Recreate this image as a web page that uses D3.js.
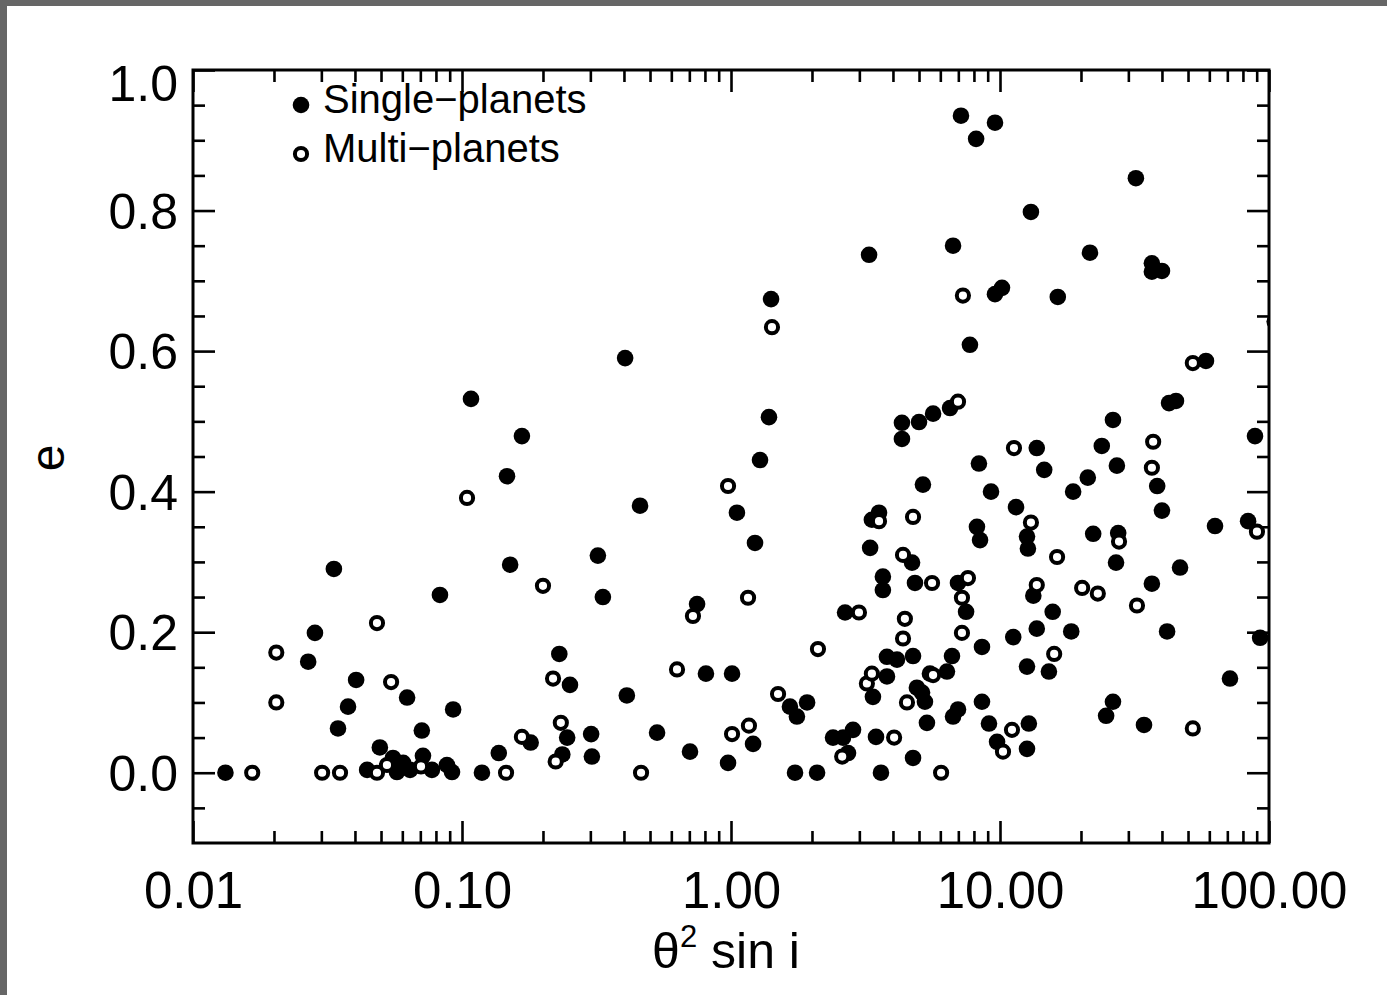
<!DOCTYPE html>
<html>
<head>
<meta charset="utf-8">
<script src="https://cdn.jsdelivr.net/npm/d3@7"></script>
<style>
  body { margin: 0; background: #fff; }
  text { font-family: "Liberation Sans", Arial, Helvetica, sans-serif; fill: #000; }
</style>
</head>
<body>
<div id="chart"></div>
<script>
// single-planet systems (filled dots)
let singleX = [0.0132, 0.0268, 0.0284, 0.0334, 0.0346, 0.0377, 0.0404, 0.0625, 0.0828, 0.0927,
  0.0709, 0.0495, 0.0444, 0.0554, 0.0604, 0.0573, 0.0641, 0.0716, 0.0773, 0.0879,
  0.0918, 0.1186, 0.108, 0.147, 0.167, 0.151, 0.137, 0.180, 0.230, 0.252,
  0.246, 0.236, 0.302, 0.304, 0.320, 0.334, 0.404, 0.410, 0.459, 0.531,
  0.704, 0.748, 0.807, 1.009, 0.975, 1.052, 1.228, 1.208, 1.282, 1.384,
  1.409, 1.656, 1.758, 1.918, 1.730, 2.089, 2.395, 2.609, 2.723, 2.842,
  2.655, 3.26, 3.34, 3.55, 3.46, 3.61, 3.67, 3.67, 3.29, 3.80,
  4.14, 3.80, 3.37, 4.75, 4.75, 4.71, 4.83, 4.91, 5.13, 5.26,
  5.35, 5.49, 4.32, 4.32, 5.00, 5.64, 6.52, 5.17, 6.35, 6.63,
  6.69, 6.98, 6.98, 7.48, 8.21, 8.43, 8.57, 8.57, 9.10, 9.75,
  8.35, 9.26, 6.69, 7.16, 8.15, 9.58, 7.73, 9.58, 10.17, 13.03,
  16.4, 21.6, 32.0, 36.7, 36.7, 40.0, 58.3, 42.5, 45.1, 26.3,
  13.7, 11.47, 12.6, 12.7, 14.6, 23.9, 27.2, 21.2, 18.7, 38.4,
  40.0, 22.2, 27.5, 27.0, 46.7, 63.0, 83.6, 88.7, 36.7, 13.3,
  15.7, 13.7, 11.2, 18.4, 41.8, 92.7, 12.6, 15.2, 71.6, 26.3,
  24.8, 34.3, 12.8, 12.6, 105]
let singleE = [0.0, 0.158, 0.199, 0.290, 0.063, 0.094, 0.132, 0.107, 0.253, 0.090,
  0.060, 0.036, 0.004, 0.021, 0.014, 0.001, 0.004, 0.024, 0.004, 0.011,
  0.001, 0.0, 0.532, 0.422, 0.479, 0.296, 0.028, 0.043, 0.169, 0.125,
  0.050, 0.026, 0.055, 0.023, 0.309, 0.250, 0.590, 0.110, 0.380, 0.057,
  0.030, 0.240, 0.141, 0.141, 0.014, 0.370, 0.327, 0.041, 0.445, 0.506,
  0.674, 0.094, 0.080, 0.100, 0.0, 0.0, 0.050, 0.050, 0.028, 0.061,
  0.228, 0.737, 0.360, 0.370, 0.051, 0.0, 0.279, 0.260, 0.320, 0.165,
  0.161, 0.137, 0.108, 0.166, 0.021, 0.299, 0.270, 0.121, 0.114, 0.101,
  0.071, 0.141, 0.498, 0.475, 0.499, 0.511, 0.519, 0.410, 0.144, 0.166,
  0.080, 0.090, 0.270, 0.229, 0.350, 0.331, 0.179, 0.101, 0.070, 0.044,
  0.440, 0.400, 0.750, 0.935, 0.902, 0.925, 0.609, 0.681, 0.690, 0.798,
  0.677, 0.740, 0.846, 0.725, 0.713, 0.714, 0.586, 0.526, 0.529, 0.502,
  0.462, 0.378, 0.336, 0.319, 0.431, 0.465, 0.437, 0.420, 0.400, 0.408,
  0.373, 0.340, 0.341, 0.299, 0.292, 0.351, 0.358, 0.479, 0.269, 0.252,
  0.229, 0.205, 0.193, 0.201, 0.201, 0.192, 0.151, 0.144, 0.134, 0.101,
  0.081, 0.068, 0.070, 0.034, 0.642]

// multi-planet systems (open circles)
let multiX = [0.0166, 0.0204, 0.0204, 0.0302, 0.0352, 0.0483, 0.0545, 0.0483, 0.0526, 0.0704,
  0.1044, 0.1458, 0.200, 0.218, 0.233, 0.167, 0.223, 0.463, 0.630, 0.722,
  0.975, 1.009, 1.166, 1.157, 1.42, 1.496, 2.105, 2.59, 2.99, 3.20,
  3.34, 3.55, 4.04, 4.36, 4.43, 4.36, 4.51, 4.75, 5.59, 5.64,
  6.04, 6.98, 7.28, 7.60, 7.22, 7.22, 11.08, 10.26, 11.27, 13.03,
  13.7, 16.3, 15.9, 20.2, 23.1, 27.7, 32.3, 37.1, 36.7, 52.1,
  52.1, 90.2]
let multiE = [0.0, 0.171, 0.100, 0.0, 0.0, 0.213, 0.129, 0.0, 0.011, 0.009,
  0.391, 0.0, 0.266, 0.134, 0.071, 0.051, 0.016, 0.0, 0.147, 0.223,
  0.408, 0.055, 0.067, 0.249, 0.634, 0.112, 0.176, 0.023, 0.228, 0.127,
  0.141, 0.358, 0.050, 0.310, 0.219, 0.191, 0.100, 0.364, 0.270, 0.139,
  0.0, 0.528, 0.679, 0.277, 0.249, 0.199, 0.061, 0.030, 0.462, 0.356,
  0.267, 0.307, 0.169, 0.263, 0.255, 0.329, 0.238, 0.471, 0.434, 0.583,
  0.063, 0.343]

let xMajor = [0.01, 0.1, 1, 10, 100]
let yMajor = [0, 0.2, 0.4, 0.6, 0.8, 1.0]
let legendLabels = ['Single\u2212planets', 'Multi\u2212planets']

let width = 1387
let height = 995
let margin = { top: 70, left: 193, right: 118, bottom: 152 }

let svg = d3.select('#chart').append('svg')
  .attr('width', width)
  .attr('height', height)

svg.append('rect').attr('width', width).attr('height', height).attr('fill', '#fff')
// grey page edge of the scan
svg.append('rect').attr('width', width).attr('height', 6).attr('fill', '#666')
svg.append('rect').attr('width', 7).attr('height', height).attr('fill', '#666')

let xScale = d3.scaleLog()
  .domain([0.01, 100])
  .range([margin.left, width - margin.right])

let yScale = d3.scaleLinear()
  .domain([-0.1, 1.0])
  .range([height - margin.bottom, margin.top])

let x0 = xScale.range()[0], x1 = xScale.range()[1]
let y0 = yScale.range()[0], y1 = yScale.range()[1]

let xMinor = []
for (let dec = 0.01; dec < 100; dec *= 10) {
  for (let k = 2; k <= 9; k++) xMinor.push(+(dec * k).toPrecision(3))
}
let yMinor = d3.range(-0.05, 1.0, 0.05).map(d => +d.toFixed(2)).filter(d => yMajor.indexOf(d) < 0)

let majorLen = 22
let minorLen = 12

function styleTicks(g) {
  g.select('.domain').remove()
  g.selectAll('line').attr('stroke', '#000').attr('stroke-width', 2.6)
}

// bottom
svg.append('g').attr('transform', `translate(0,${y0})`)
  .call(d3.axisBottom(xScale).tickValues(xMinor).tickSize(-minorLen).tickFormat(''))
  .call(styleTicks)
svg.append('g').attr('transform', `translate(0,${y0})`)
  .call(d3.axisBottom(xScale).tickValues(xMajor).tickSize(-majorLen).tickPadding(29).tickFormat(d3.format('.2f')))
  .call(styleTicks)
  .selectAll('text').attr('font-size', 51)

// top
svg.append('g').attr('transform', `translate(0,${y1})`)
  .call(d3.axisTop(xScale).tickValues(xMinor).tickSize(-minorLen).tickFormat(''))
  .call(styleTicks)
svg.append('g').attr('transform', `translate(0,${y1})`)
  .call(d3.axisTop(xScale).tickValues(xMajor).tickSize(-majorLen).tickFormat(''))
  .call(styleTicks)

// left
svg.append('g').attr('transform', `translate(${x0},0)`)
  .call(d3.axisLeft(yScale).tickValues(yMinor).tickSize(-minorLen).tickFormat(''))
  .call(styleTicks)
svg.append('g').attr('transform', `translate(${x0},0)`)
  .call(d3.axisLeft(yScale).tickValues(yMajor).tickSize(-majorLen).tickPadding(15).tickFormat(d3.format('.1f')))
  .call(styleTicks)
  .selectAll('text')
  .attr('font-size', 50)
  .attr('dy', d => d === 1 ? '0.6em' : '0.35em')

// right
svg.append('g').attr('transform', `translate(${x1},0)`)
  .call(d3.axisRight(yScale).tickValues(yMinor).tickSize(-minorLen).tickFormat(''))
  .call(styleTicks)
svg.append('g').attr('transform', `translate(${x1},0)`)
  .call(d3.axisRight(yScale).tickValues(yMajor).tickSize(-majorLen).tickFormat(''))
  .call(styleTicks)

svg.append('clipPath').attr('id', 'plot-clip')
  .append('rect')
  .attr('x', x0).attr('y', y1)
  .attr('width', x1 - x0).attr('height', y0 - y1)

let holder = svg.append('g').attr('clip-path', 'url(#plot-clip)')

let singles = singleX.map((d, i) => ({ x: d, e: singleE[i] }))
let multis = multiX.map((d, i) => ({ x: d, e: multiE[i] }))

holder.selectAll('.single')
  .data(singles)
  .enter().append('circle')
  .attr('class', 'single')
  .attr('cx', d => xScale(d.x))
  .attr('cy', d => yScale(d.e))
  .attr('r', 8.3)
  .attr('fill', '#000')

holder.selectAll('.multi')
  .data(multis)
  .enter().append('circle')
  .attr('class', 'multi')
  .attr('cx', d => xScale(d.x))
  .attr('cy', d => yScale(d.e))
  .attr('r', 6.1)
  .attr('fill', '#fff')
  .attr('stroke', '#000')
  .attr('stroke-width', 4)

// frame
svg.append('rect')
  .attr('x', x0).attr('y', y1)
  .attr('width', x1 - x0).attr('height', y0 - y1)
  .attr('fill', 'none')
  .attr('stroke', '#000')
  .attr('stroke-width', 3)

// legend
let legend = svg.append('g')
legend.append('circle').attr('cx', 301).attr('cy', 105).attr('r', 8.3).attr('fill', '#000')
legend.append('circle').attr('cx', 301).attr('cy', 154).attr('r', 6.1)
  .attr('fill', '#fff').attr('stroke', '#000').attr('stroke-width', 4)
legend.selectAll('.legend-text')
  .data(legendLabels)
  .enter().append('text')
  .attr('x', 323)
  .attr('y', (d, i) => 113 + i * 49)
  .attr('font-size', 40)
  .text(d => d)

// axis titles
let xTitle = svg.append('text')
  .attr('x', 726)
  .attr('y', 968)
  .attr('text-anchor', 'middle')
  .attr('font-size', 50)
xTitle.append('tspan').text('\u03b8')
xTitle.append('tspan').attr('font-size', 31).attr('dy', -21).text('2')
xTitle.append('tspan').attr('dy', 21).text(' sin i')

svg.append('text')
  .attr('transform', 'translate(64,458) rotate(-90)')
  .attr('text-anchor', 'middle')
  .attr('font-size', 48)
  .text('e')
</script>
</body>
</html>
